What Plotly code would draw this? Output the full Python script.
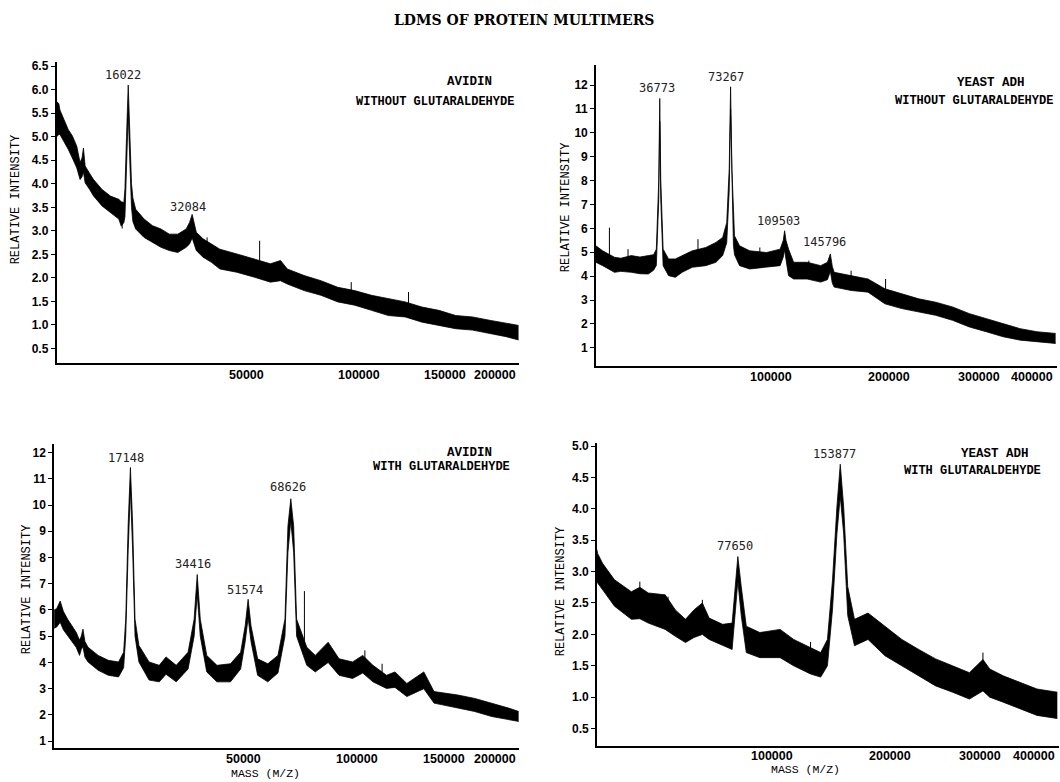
import numpy as np
import plotly.graph_objects as go

# ---------------- DATA ----------------
# Top-left: Avidin without glutaraldehyde
tl_mass = [4600, 4840, 4960, 5450, 5980, 6500, 7100, 7571, 7850, 8060, 8310, 9000, 9620, 11030, 12530,
           14125, 14600, 15130, 15350, 15670, 16022, 16380, 16710, 17000, 17610, 19490, 21470, 23550,
           25720, 27990, 30350, 31325, 32084, 33314, 35367, 38017, 40764, 46548, 52716, 59258, 63373,
           66193, 73506, 81202, 89281, 97750, 106596, 115825, 125436, 135439, 145817, 156578, 167731,
           179259, 191170, 200200]
tl_upper = [5.75, 5.70, 5.57, 5.35, 5.15, 5.02, 4.80, 4.45, 4.55, 4.76, 4.38, 4.22, 4.09, 3.88, 3.74,
            3.67, 3.62, 3.60, 3.90, 5.00, 6.10, 5.00, 4.00, 3.70, 3.46, 3.25, 3.11, 3.04,
            2.93, 2.93, 3.04, 3.18, 3.35, 2.97, 2.83, 2.72, 2.61, 2.51, 2.40, 2.30, 2.37,
            2.19, 2.05, 1.94, 1.80, 1.73, 1.63, 1.56, 1.49, 1.38, 1.31, 1.20, 1.17,
            1.10, 1.03, 0.99]
tl_lower = [5.00, 5.05, 5.05, 4.90, 4.73, 4.55, 4.34, 4.09, 4.15, 4.25, 4.02, 3.88, 3.74, 3.53, 3.39,
            3.25, 3.10, 3.18, 3.30, 4.40, 5.50, 4.40, 3.50, 3.20, 3.04, 2.86, 2.76, 2.65,
            2.58, 2.54, 2.65, 2.72, 2.85, 2.58, 2.44, 2.33, 2.19, 2.12, 2.02, 1.91, 1.94,
            1.87, 1.73, 1.63, 1.49, 1.42, 1.31, 1.20, 1.17, 1.06, 0.99, 0.92, 0.89,
            0.82, 0.75, 0.68]
tl_spike_mass = [14786, 36626, 55023, 96000, 127406]
tl_spike_low = [3.05, 2.60, 2.20, 1.60, 1.40]
tl_spike_high = [3.30, 2.86, 2.79, 1.91, 1.70]
tl_peaks = [16022, 32084]

# Top-right: Yeast ADH without glutaraldehyde
tr_mass = [14547, 16422, 19974, 22000, 25651, 28800, 32037, 34200, 35330, 36340, 36773, 37210, 38230,
           40639, 43735, 46941, 51966, 59059, 64679, 68571, 70958, 72450, 73267, 74080, 75000, 75647,
           78787, 85258, 96609, 106204, 108500, 109503, 110500, 112426, 116247, 126750, 137700, 143353,
           145796, 147500, 149112, 164009, 179623, 195939, 212964, 230698, 249141, 268303, 288165,
           308736, 330016, 352017, 374715, 400512]
tr_upper = [5.27, 5.06, 4.79, 4.75, 4.86, 4.80, 4.86, 4.90, 5.13, 8.00, 11.44, 8.00, 5.13,
            4.72, 4.72, 4.86, 5.06, 5.20, 5.41, 5.62, 6.24, 8.50, 11.93, 8.50, 6.20, 5.69,
            5.27, 5.06, 4.99, 5.13, 5.50, 5.90, 5.50, 5.13, 4.58, 4.58, 4.44, 4.58,
            4.93, 4.40, 4.16, 4.02, 3.88, 3.47, 3.26, 3.05, 2.91, 2.71, 2.43,
            2.22, 2.01, 1.80, 1.67, 1.60]
tr_lower = [4.58, 4.44, 4.16, 4.20, 4.16, 4.10, 4.09, 4.25, 4.45, 7.20, 10.50, 7.20, 4.44,
            4.02, 3.95, 4.16, 4.37, 4.44, 4.58, 4.86, 5.40, 7.60, 11.00, 7.60, 5.30, 4.90,
            4.44, 4.30, 4.37, 4.44, 4.80, 5.10, 4.70, 4.02, 3.88, 3.88, 3.75, 3.85,
            4.20, 3.70, 3.54, 3.40, 3.33, 2.84, 2.64, 2.50, 2.36, 2.15, 1.87,
            1.67, 1.46, 1.32, 1.25, 1.18]
tr_spike_mass = [18409, 24461, 54925, 91985, 128092, 164009, 196604]
tr_spike_low = [4.60, 4.50, 4.80, 4.70, 4.20, 3.80, 3.30]
tr_spike_high = [6.03, 5.13, 5.55, 5.20, 4.65, 4.23, 3.88]
tr_peaks = [36773, 73267, 109503, 145796]

# Bottom-left: Avidin with glutaraldehyde
bl_mass = [4707, 5000, 5416, 5800, 6350, 7503, 7991, 8250, 8494, 8800, 9276, 10947, 12755, 14702,
           15728, 16160, 16680, 17148, 17622, 18150, 19011, 21372, 23870, 25613, 28345, 31702, 33490,
           34000, 34416, 34830, 35350, 37361, 40647, 45237, 48841, 50500, 51574, 52650, 55159, 59132,
           63242, 66140, 67410, 68626, 69850, 71135, 75642, 79501, 85550, 90818, 97619, 102881,
           108287, 115702, 120465, 127285, 137367, 143596, 158675, 169901, 181519, 193512, 200892]
bl_upper = [6.00, 6.05, 6.34, 5.95, 5.65, 5.15, 4.85, 5.00, 5.27, 4.80, 4.58, 4.27, 4.08, 4.02,
            4.39, 5.65, 9.30, 11.43, 9.30, 5.65, 4.65, 4.02, 3.89, 4.21, 3.89, 4.39, 5.65,
            6.60, 7.35, 6.60, 5.65, 4.27, 3.89, 3.95, 4.39, 5.40, 6.41, 5.40, 4.14, 3.95,
            4.27, 5.65, 9.20, 10.24, 9.20, 5.65, 4.58, 4.27, 4.77, 4.14, 4.02, 4.27,
            3.89, 3.51, 3.64, 3.20, 3.64, 2.89, 2.76, 2.63, 2.45, 2.26, 2.13]
bl_lower = [5.30, 5.35, 5.53, 5.25, 5.02, 4.58, 4.27, 4.50, 4.60, 4.20, 4.02, 3.70, 3.51, 3.45,
            3.80, 5.00, 8.30, 10.60, 8.30, 5.00, 4.02, 3.33, 3.26, 3.55, 3.26, 3.75, 5.00,
            5.90, 6.60, 5.90, 5.00, 3.64, 3.26, 3.26, 3.75, 4.80, 5.70, 4.80, 3.51, 3.26,
            3.60, 5.00, 8.20, 9.40, 8.20, 5.00, 3.89, 3.64, 4.00, 3.51, 3.39, 3.60,
            3.26, 3.01, 3.05, 2.70, 3.00, 2.45, 2.26, 2.13, 1.94, 1.82, 1.75]
bl_spike_mass = [74578, 104000, 113266]
bl_spike_low = [4.80, 4.00, 3.50]
bl_spike_high = [6.72, 4.46, 3.95]
bl_peaks = [17148, 34416, 51574, 68626]

# Bottom-right: Yeast ADH with glutaraldehyde
br_mass = [14967, 15151, 16569, 20119, 25789, 28887, 32163, 39240, 43819, 48656, 52882, 57279, 60925,
           68555, 74164, 76220, 77650, 79778, 82984, 91851, 105996, 115988, 129104, 137315, 142929,
           147218, 150979, 153877, 156864, 160448, 166513, 178980, 195196, 212106, 229728, 248054,
           267082, 286803, 303094, 311409, 328375, 350215, 372747, 400727]
br_upper = [3.35, 3.29, 3.13, 2.87, 2.68, 2.75, 2.66, 2.63, 2.39, 2.24, 2.39, 2.50, 2.26,
            2.16, 2.18, 2.87, 3.24, 2.76, 2.13, 2.03, 2.08, 1.92, 1.79, 1.71, 1.92,
            2.87, 4.03, 4.71, 4.03, 2.76, 2.24, 2.34, 2.13, 1.92, 1.76, 1.61,
            1.50, 1.39, 1.60, 1.45, 1.34, 1.24, 1.13, 1.08]
br_lower = [2.85, 2.82, 2.71, 2.45, 2.24, 2.25, 2.18, 2.08, 1.97, 1.87, 1.95, 2.00, 1.92,
            1.82, 1.76, 2.40, 2.85, 2.30, 1.71, 1.63, 1.63, 1.50, 1.37, 1.32, 1.50,
            2.40, 3.60, 4.20, 3.60, 2.30, 1.82, 1.92, 1.66, 1.50, 1.34, 1.18,
            1.08, 0.97, 1.10, 1.00, 0.92, 0.82, 0.71, 0.66]
br_spike_mass = [28887, 40500, 57279, 129104, 303094]
br_spike_low = [2.40, 2.30, 2.20, 1.60, 1.30]
br_spike_high = [2.84, 2.60, 2.55, 1.88, 1.71]
br_peaks = [77650, 153877]

left_xticks = [50000, 100000, 150000, 200000]
right_xticks = [100000, 200000, 300000, 400000]
tl_yticks = [0.5, 1.0, 1.5, 2.0, 2.5, 3.0, 3.5, 4.0, 4.5, 5.0, 5.5, 6.0, 6.5]
tr_yticks = [1, 2, 3, 4, 5, 6, 7, 8, 9, 10, 11, 12]
bl_yticks = [1, 2, 3, 4, 5, 6, 7, 8, 9, 10, 11, 12]
br_yticks = [0.5, 1.0, 1.5, 2.0, 2.5, 3.0, 3.5, 4.0, 4.5, 5.0]

title_text = "LDMS OF PROTEIN MULTIMERS"
y_title = "RELATIVE INTENSITY"
x_title = "MASS (M/Z)"

# ---------------- LAYOUT / STYLE ----------------
W, H = 1060, 782
def px(x):
    return x / W
def py(y):
    return 1 - y / H

panels = [
    dict(mass=tl_mass, up=tl_upper, lo=tl_lower, sm=tl_spike_mass, sl=tl_spike_low, sh=tl_spike_high,
         peaks=tl_peaks, xticks=left_xticks, yticks=tl_yticks, ytickfmt="{:.1f}",
         xdom=[56.5, 518.8], ydom=[361.7, 58.3], xlim=[4574, 200300], ylim=[0.183, 6.59],
         peak_pos=[(6.31, -5), (3.51, -4)], xtick_y=373.5,
         name="AVIDIN", name_pos=(469.8, 78.3), sub="WITHOUT GLUTARALDEHYDE", sub_pos=(435.2, 99.0),
         ytitle_pos=(16.9, 196.7), xtitle_pos=None),
    dict(mass=tr_mass, up=tr_upper, lo=tr_lower, sm=tr_spike_mass, sl=tr_spike_low, sh=tr_spike_high,
         peaks=tr_peaks, xticks=right_xticks, yticks=tr_yticks, ytickfmt="{:d}",
         xdom=[595.9, 1057.3], ydom=[364.0, 61.7], xlim=[14547, 402900], ylim=[0.25, 12.83],
         peak_pos=[(11.9, -3), (12.35, -5), (6.31, -6), (5.44, -6)], xtick_y=375,
         name="YEAST ADH", name_pos=(991.4, 79.3), sub="WITHOUT GLUTARALDEHYDE", sub_pos=(973.6, 97.3),
         ytitle_pos=(565.5, 205.0), xtitle_pos=None),
    dict(mass=bl_mass, up=bl_upper, lo=bl_lower, sm=bl_spike_mass, sl=bl_spike_low, sh=bl_spike_high,
         peaks=bl_peaks, xticks=left_xticks, yticks=bl_yticks, ytickfmt="{:d}",
         xdom=[54.1, 518.8], ydom=[748.5, 443.3], xlim=[4707, 200900], ylim=[0.75, 12.31],
         peak_pos=[(11.80, -4), (7.75, -4), (6.76, -3), (10.70, -3)], xtick_y=759.5,
         name="AVIDIN", name_pos=(469.8, 451.7), sub="WITH GLUTARALDEHYDE", sub_pos=(441.1, 466.0),
         ytitle_pos=(27.0, 589.0), xtitle_pos=(265.3, 774)),
    dict(mass=br_mass, up=br_upper, lo=br_lower, sm=br_spike_mass, sl=br_spike_low, sh=br_spike_high,
         peaks=br_peaks, xticks=right_xticks, yticks=br_yticks, ytickfmt="{:.1f}",
         xdom=[596.9, 1059.0], ydom=[746.5, 441.7], xlim=[14967, 403100], ylim=[0.227, 5.05],
         peak_pos=[(3.405, -3), (4.88, -6)], xtick_y=757,
         name="YEAST ADH", name_pos=(994.8, 452.7), sub="WITH GLUTARALDEHYDE", sub_pos=(972.0, 470.0),
         ytitle_pos=(561.1, 591.0), xtitle_pos=(805.5, 770)),
]

TICKFONT = dict(family="Liberation Sans", size=12, color="black", weight="bold")
MONO = "Liberation Mono"

fig = go.Figure()
annotations = []
layout_axes = {}

for i, p in enumerate(panels, start=1):
    xr = "x" if i == 1 else f"x{i}"
    yr = "y" if i == 1 else f"y{i}"
    xs = np.sqrt(np.array(p["mass"], dtype=float))
    # upper envelope of the noisy trace
    fig.add_trace(go.Scatter(x=xs, y=p["up"], mode="lines", line=dict(color="black", width=0.8),
                             xaxis=xr, yaxis=yr, showlegend=False, hoverinfo="skip"))
    # lower envelope, filled up to the upper one
    fig.add_trace(go.Scatter(x=xs, y=p["lo"], mode="lines", line=dict(color="black", width=0.8),
                             fill="tonexty", fillcolor="black",
                             xaxis=xr, yaxis=yr, showlegend=False, hoverinfo="skip"))
    # single-channel spikes
    sx, sy = [], []
    for m, lo, hi in zip(p["sm"], p["sl"], p["sh"]):
        sx += [np.sqrt(m), np.sqrt(m), None]
        sy += [lo, hi, None]
    fig.add_trace(go.Scatter(x=sx, y=sy, mode="lines", line=dict(color="black", width=1),
                             xaxis=xr, yaxis=yr, showlegend=False, hoverinfo="skip"))

    xkey = "xaxis" if i == 1 else f"xaxis{i}"
    ykey = "yaxis" if i == 1 else f"yaxis{i}"
    layout_axes[xkey] = dict(domain=[px(p["xdom"][0]), px(p["xdom"][1])],
                             range=[np.sqrt(p["xlim"][0]), np.sqrt(p["xlim"][1])],
                             anchor=yr, showline=True, linecolor="black", linewidth=1.5,
                             showgrid=False, zeroline=False, showticklabels=False, ticks="")
    layout_axes[ykey] = dict(domain=[py(p["ydom"][0]), py(p["ydom"][1])],
                             range=p["ylim"], anchor=xr, showline=True, linecolor="black",
                             linewidth=1.5, showgrid=False, zeroline=False,
                             tickvals=p["yticks"], ticktext=[p["ytickfmt"].format(v) for v in p["yticks"]],
                             ticks="outside", ticklen=4, tickwidth=1.2, tickcolor="black",
                             tickfont=TICKFONT)

    # x tick labels (the last one sits flush with the axis end)
    n = len(p["xticks"])
    for k, t in enumerate(p["xticks"]):
        annotations.append(dict(x=np.sqrt(t), y=py(p["xtick_y"]), xref=xr, yref="paper",
                                text=f"{t}", showarrow=False, font=dict(TICKFONT, size=12.5),
                                xanchor="right" if k == n - 1 else "center", yanchor="middle"))
    # peak labels
    for m, (yv, sh) in zip(p["peaks"], p["peak_pos"]):
        annotations.append(dict(x=np.sqrt(m), y=yv, xref=xr, yref=yr, text=str(m), showarrow=False,
                                xshift=sh, font=dict(family="DejaVu Sans Mono", size=12, color="#222"),
                                xanchor="center", yanchor="middle"))
    # panel labels
    annotations.append(dict(x=px(p["name_pos"][0]), y=py(p["name_pos"][1]), xref="paper", yref="paper",
                            text=p["name"], showarrow=False,
                            font=dict(family=MONO, size=12.5, color="black", weight="bold"),
                            xanchor="center", yanchor="middle"))
    annotations.append(dict(x=px(p["sub_pos"][0]), y=py(p["sub_pos"][1]), xref="paper", yref="paper",
                            text=p["sub"], showarrow=False,
                            font=dict(family=MONO, size=12, color="black", weight="bold"),
                            xanchor="center", yanchor="middle"))
    annotations.append(dict(x=px(p["ytitle_pos"][0]), y=py(p["ytitle_pos"][1]), xref="paper", yref="paper",
                            text=y_title, showarrow=False, textangle=-90,
                            font=dict(family=MONO, size=12, color="black"),
                            xanchor="center", yanchor="middle"))
    if p["xtitle_pos"]:
        annotations.append(dict(x=px(p["xtitle_pos"][0]), y=py(p["xtitle_pos"][1]), xref="paper",
                                yref="paper", text=x_title, showarrow=False,
                                font=dict(family=MONO, size=11.5, color="black"),
                                xanchor="center", yanchor="middle"))

annotations.append(dict(x=px(524), y=py(16), xref="paper", yref="paper", text=title_text, showarrow=False,
                        font=dict(family="DejaVu Serif", size=14, color="black", weight="bold"),
                        xanchor="center", yanchor="middle"))

fig.update_layout(width=W, height=H, margin=dict(l=0, r=0, t=0, b=0),
                  paper_bgcolor="white", plot_bgcolor="white",
                  annotations=annotations, **layout_axes)

fig.write_html("out.html")
